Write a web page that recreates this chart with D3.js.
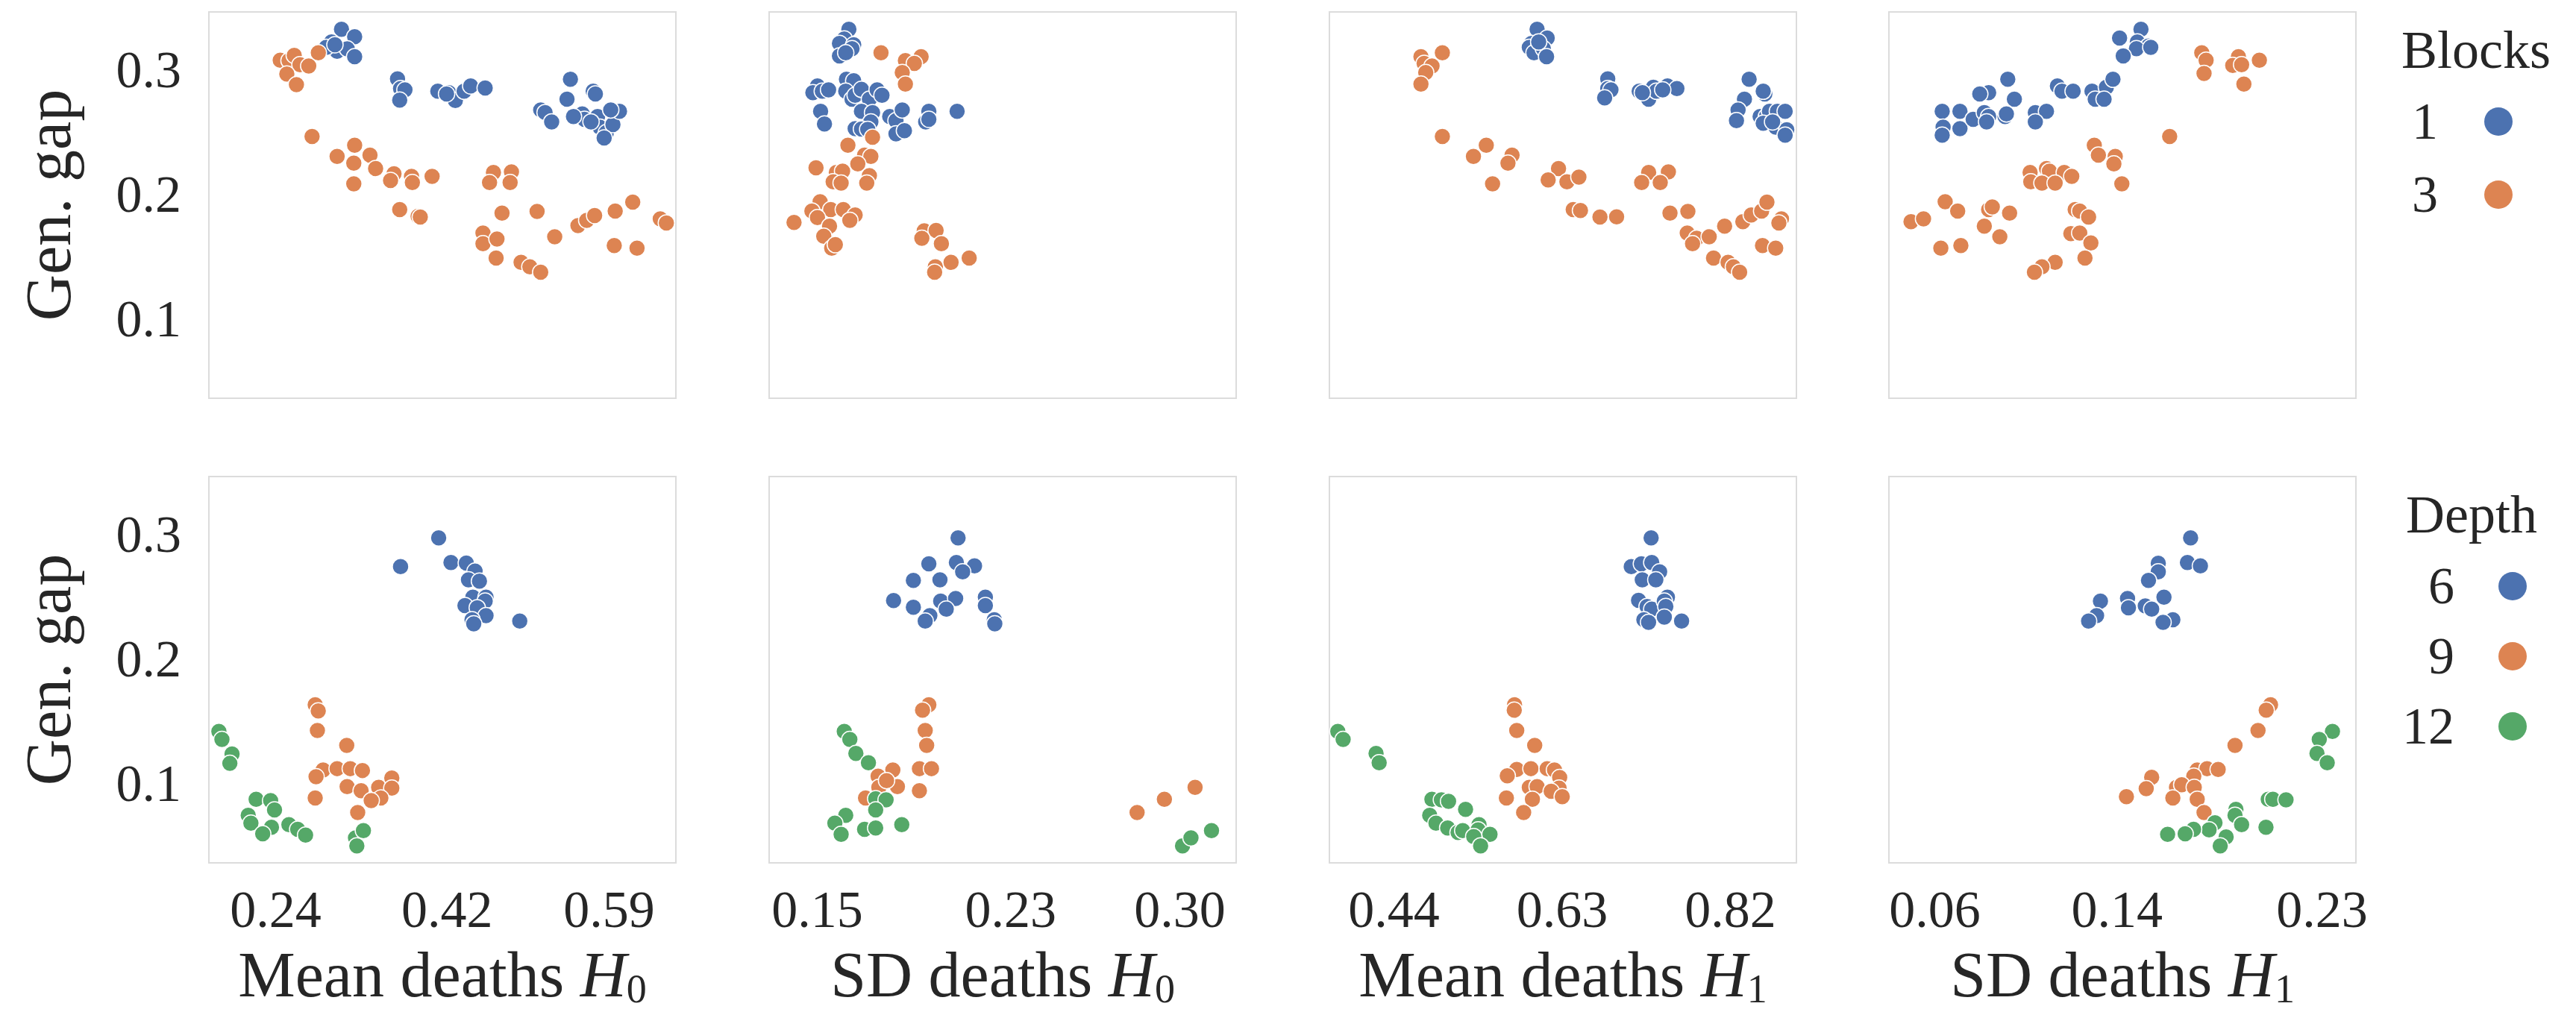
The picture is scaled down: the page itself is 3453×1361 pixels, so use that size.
<!DOCTYPE html>
<html>
<head>
<meta charset="utf-8">
<script src="https://cdn.jsdelivr.net/npm/d3@7"></script>
<style>
  body { margin: 0; background: #fff; }
  text { font-family: "Liberation Serif", "Times New Roman", Times, Tinos, "DejaVu Serif", "Noto Serif", FreeSerif, serif; fill: #262626; }
</style>
</head>
<body>
<div id="chart"></div>
<script>
// ---- data ----
var xLabels = ["Mean deaths", "SD deaths", "Mean deaths", "SD deaths"];
var xSubs = ["0", "0", "1", "1"];
var xTicks = [[0.24, 0.42, 0.59], [0.15, 0.23, 0.30], [0.44, 0.63, 0.82], [0.06, 0.14, 0.23]];
var xDomains = [[0.1703, 0.6605], [0.1302, 0.3235], [0.3675, 0.895], [0.040, 0.2451]];
var yTicks = [0.1, 0.2, 0.3];
var yDomain = [0.036, 0.3467];

var blocksNames = ["1", "3"];
var depthNames = ["6", "9", "12"];

// top row: Blocks = 1 / 3
var meanH0_b1 = [[0.3095,0.3327],[0.3233,0.3267],[0.2990,0.3225],[0.3049,0.315],[0.3155,0.317],[0.3233,0.3107],[0.2935,0.3182],[0.3026,0.3203],
  [0.3683,0.2929],[0.3715,0.285],[0.3761,0.284],[0.3706,0.2758],[0.4106,0.2829],[0.4221,0.2818],[0.4290,0.2754],[0.4382,0.2829],[0.4451,0.2872],[0.4603,0.2855],[0.4198,0.2807],
  [0.5498,0.2925],[0.5462,0.2765],[0.5737,0.2829],[0.5760,0.2807],[0.5186,0.2679],[0.5232,0.2658],[0.5301,0.2583],[0.5622,0.2647],[0.5645,0.2604],[0.5783,0.2626],[0.5806,0.254],[0.5875,0.2497],[0.5944,0.2561],[0.6013,0.2668],[0.5921,0.2679],[0.5714,0.2583],[0.5852,0.2454],[0.5530,0.2626]];
var meanH0_b3 = [[0.2452,0.3079],[0.2544,0.3075],[0.2599,0.3118],[0.2659,0.3043],[0.2751,0.3032],[0.2521,0.2968],[0.2622,0.2882],[0.2852,0.3139],
  [0.2786,0.2465],[0.3233,0.2395],[0.3049,0.2305],[0.3394,0.2315],[0.3224,0.2251],[0.3453,0.2208],[0.3646,0.2166],[0.3610,0.2112],[0.3830,0.2144],[0.3839,0.2095],[0.4046,0.2144],[0.3224,0.2084],[0.3706,0.1877],[0.3899,0.1823],[0.3922,0.1817],
  [0.4690,0.2176],[0.4879,0.2181],[0.4649,0.2095],[0.4865,0.2095],[0.4780,0.1849],[0.5148,0.1862],[0.4580,0.1688],[0.4580,0.1603],[0.4727,0.1641],[0.4718,0.1487],[0.4980,0.1453],[0.5072,0.1417],[0.5186,0.1374],[0.5333,0.1659],[0.5577,0.1748],[0.5669,0.1791],[0.5752,0.183],[0.5968,0.1866],[0.6152,0.1937],[0.6441,0.1802],[0.6505,0.177],[0.5958,0.1588],[0.6197,0.1567]];

var sdH0_b1 = [[0.1632,0.3327],[0.1613,0.325],[0.1593,0.3214],[0.1652,0.3203],[0.1645,0.3171],[0.1593,0.3113],[0.1619,0.3139],
  [0.1502,0.2872],[0.1483,0.2818],[0.1522,0.2829],[0.1548,0.284],[0.1622,0.2925],[0.1652,0.2914],[0.1619,0.2829],[0.1645,0.2765],[0.1658,0.2797],[0.1684,0.2844],[0.1717,0.2765],[0.1749,0.284],[0.1769,0.2797],
  [0.1515,0.2668],[0.1531,0.2566],[0.1684,0.2668],[0.1730,0.2658],[0.1723,0.2583],[0.1658,0.2529],[0.1684,0.2525],[0.1710,0.2523],[0.1801,0.2626],[0.1827,0.2593],[0.1853,0.2679],[0.1827,0.2487],[0.1862,0.2512],[0.1963,0.2668],[0.1950,0.2583],[0.1963,0.2604],[0.2080,0.2668]];
var sdH0_b3 = [[0.1765,0.3139],[0.1866,0.3075],[0.1931,0.3107],[0.1903,0.3053],[0.1853,0.2979],[0.1866,0.2887],[0.1730,0.2459],
  [0.1628,0.2395],[0.1697,0.2315],[0.1723,0.2305],[0.1669,0.2245],[0.1496,0.2213],[0.1580,0.2176],[0.1606,0.2187],[0.1567,0.2101],[0.1600,0.2091],[0.1717,0.2151],[0.1706,0.2091],
  [0.1513,0.1941],[0.1479,0.1866],[0.1557,0.1877],[0.1609,0.1877],[0.1658,0.1834],[0.1636,0.1791],[0.1405,0.1774],[0.1502,0.1813],[0.1552,0.1744],[0.1528,0.1663],[0.1561,0.1567],[0.1576,0.1595],
  [0.1944,0.1706],[0.1993,0.171],[0.2015,0.1603],[0.1934,0.1646],[0.1990,0.1417],[0.1987,0.1374],[0.2055,0.1453],[0.2130,0.1487]];

var meanH1_b1 = [[0.6021,0.3327],[0.6135,0.3257],[0.5957,0.3214],[0.5933,0.3182],[0.5986,0.3139],[0.6092,0.3171],[0.6128,0.3107],[0.6039,0.3225],
  [0.6819,0.2929],[0.6819,0.285],[0.6855,0.284],[0.6784,0.2775],[0.7174,0.2829],[0.7281,0.2765],[0.7334,0.2861],[0.7369,0.2829],[0.7494,0.2872],[0.7600,0.2850],[0.7210,0.2818],[0.7440,0.2840],
  [0.8416,0.2925],[0.8363,0.2765],[0.8593,0.2807],[0.8575,0.2829],[0.8291,0.2679],[0.8273,0.2593],[0.8540,0.2626],[0.8611,0.2626],[0.8646,0.2668],[0.8735,0.2668],[0.8823,0.2668],[0.8717,0.254],[0.8841,0.2519],[0.8823,0.2476],[0.8575,0.2572],[0.8681,0.2583]];
var meanH1_b3 = [[0.4709,0.3107],[0.4745,0.3053],[0.4834,0.3032],[0.4951,0.3139],[0.4763,0.2979],[0.4709,0.2887],
  [0.4951,0.2465],[0.5447,0.2395],[0.5302,0.2305],[0.5738,0.2315],[0.5692,0.2251],[0.5518,0.2084],[0.6263,0.2208],[0.6146,0.2116],[0.6358,0.2101],[0.6493,0.2138],
  [0.7281,0.2176],[0.7504,0.2181],[0.7202,0.2095],[0.7412,0.2095],[0.6429,0.1877],[0.6511,0.187],[0.6731,0.1817],[0.6919,0.1819],[0.7522,0.1849],[0.7724,0.1862],
  [0.7717,0.1688],[0.7823,0.1646],[0.7965,0.1659],[0.7777,0.1603],[0.8139,0.1744],[0.8345,0.178],[0.8440,0.1834],[0.8557,0.1866],[0.8617,0.1937],[0.8781,0.1802],[0.8752,0.177],[0.8567,0.1588],[0.8716,0.1567],
  [0.8014,0.1487],[0.8178,0.1453],[0.8238,0.1417],[0.8309,0.1374]];

var sdH1_b1 = [[0.1507,0.3327],[0.1413,0.3257],[0.1491,0.3225],[0.1540,0.3193],[0.1487,0.3171],[0.1429,0.3113],[0.1550,0.3182],
  [0.0922,0.2925],[0.0838,0.2818],[0.0799,0.2807],[0.0951,0.2765],[0.1140,0.2872],[0.1160,0.2829],[0.1209,0.2829],[0.1292,0.2829],[0.1355,0.2861],[0.1384,0.2925],[0.1306,0.2765],[0.1345,0.2765],
  [0.0634,0.2668],[0.0712,0.2668],[0.0638,0.254],[0.0712,0.2529],[0.0770,0.2604],[0.0819,0.2658],[0.0838,0.2626],[0.0829,0.2583],[0.0910,0.2626],[0.0916,0.2647],[0.1043,0.2658],[0.1092,0.2668],[0.1043,0.2583],[0.0634,0.2476]];
var sdH1_b3 = [[0.1774,0.3139],[0.1793,0.3079],[0.1935,0.3107],[0.1910,0.3036],[0.1949,0.3043],[0.2027,0.3079],[0.1784,0.2972],[0.1959,0.2887],
  [0.1633,0.2465],[0.1302,0.2395],[0.1320,0.2315],[0.1394,0.2305],[0.1388,0.2245],[0.1423,0.2084],
  [0.1020,0.2176],[0.1092,0.2208],[0.1105,0.2187],[0.1170,0.2176],[0.1203,0.2144],[0.1023,0.2101],[0.1072,0.2091],[0.1130,0.2091],
  [0.0647,0.1941],[0.0702,0.1866],[0.0838,0.1877],[0.0854,0.1898],[0.0930,0.1849],[0.0497,0.178],[0.0552,0.1802],[0.0819,0.1744],[0.0887,0.1659],[0.0628,0.1567],[0.0716,0.1588],
  [0.1218,0.1877],[0.1238,0.1866],[0.1277,0.1817],[0.1199,0.1684],[0.1238,0.1688],[0.1287,0.1609],[0.1261,0.1487],[0.1130,0.1453],[0.1072,0.1417],[0.1039,0.1374]];

// bottom row: Depth = 6 / 9 / 12
var meanH0_d6 = [[0.4115,0.2974],[0.3715,0.2743],[0.4244,0.2775],[0.4405,0.2771],[0.4497,0.2707],[0.4428,0.2636],[0.4543,0.2626],[0.4474,0.2497],[0.4612,0.2497],[0.4603,0.2465],[0.4391,0.2429],[0.4520,0.2412],[0.4612,0.2348],[0.4465,0.2316],[0.4483,0.2283],[0.4966,0.2305]];
var meanH0_d9 = [[0.2819,0.1631],[0.2851,0.1582],[0.2842,0.1424],[0.3150,0.1304],[0.2902,0.1107],[0.3049,0.1118],[0.3187,0.1118],[0.3315,0.1103],[0.2828,0.1053],[0.3154,0.0974],[0.3301,0.094],[0.3485,0.0968],[0.3623,0.1043],[0.3623,0.0961],[0.3508,0.0882],[0.3407,0.0861],[0.2819,0.0882],[0.3265,0.0765]];
var meanH0_d12 = [[0.1808,0.1417],[0.1840,0.1353],[0.1946,0.1235],[0.1923,0.116],[0.2199,0.0872],[0.2351,0.0861],[0.2392,0.0786],[0.2116,0.0743],[0.2144,0.0679],[0.2360,0.0647],[0.2268,0.0594],[0.2543,0.0668],[0.2635,0.063],[0.2718,0.0583],[0.3242,0.0561],[0.3325,0.0619],[0.3256,0.0497]];

var sdH0_d6 = [[0.2084,0.2974],[0.1963,0.2765],[0.2077,0.2775],[0.2152,0.2748],[0.2103,0.2701],[0.1899,0.2632],[0.2009,0.2636],[0.1817,0.247],[0.1899,0.2416],[0.2012,0.2465],[0.2074,0.2487],[0.2035,0.2401],[0.1967,0.2348],[0.1948,0.2305],[0.2197,0.2497],[0.2197,0.2429],[0.2234,0.2316],[0.2236,0.2283]];
var sdH0_d9 = [[0.1963,0.1631],[0.1937,0.1588],[0.1948,0.1424],[0.1954,0.1304],[0.1814,0.1107],[0.1753,0.1058],[0.1924,0.1118],[0.1974,0.1118],[0.1833,0.0974],[0.1756,0.0968],[0.1924,0.094],[0.1701,0.0882],[0.1788,0.1021],[0.2825,0.0765],[0.2938,0.0872],[0.3065,0.0968]];
var sdH0_d12 = [[0.1613,0.1417],[0.1636,0.1353],[0.1661,0.124],[0.1713,0.1165],[0.1743,0.0876],[0.1786,0.0867],[0.1743,0.0786],[0.1619,0.0743],[0.1574,0.0679],[0.1600,0.0589],[0.1697,0.063],[0.1743,0.0641],[0.1851,0.0668],[0.3013,0.0497],[0.3048,0.0561],[0.3133,0.0619]];

var meanH1_d6 = [[0.7309,0.2974],[0.7085,0.2743],[0.7199,0.2765],[0.7316,0.2775],[0.7405,0.2701],[0.7209,0.2636],[0.7362,0.2636],[0.7167,0.2472],[0.7263,0.2422],[0.7316,0.2401],[0.7493,0.2497],[0.7458,0.2465],[0.7475,0.2422],[0.7458,0.2337],[0.7227,0.2316],[0.7280,0.2294],[0.7653,0.2305]];
var meanH1_d9 = [[0.5766,0.1631],[0.5763,0.1588],[0.5791,0.1424],[0.5994,0.1304],[0.5791,0.1111],[0.5951,0.1118],[0.6135,0.1118],[0.6217,0.1107],[0.5684,0.106],[0.6276,0.1047],[0.5933,0.0968],[0.6021,0.0974],[0.6269,0.0961],[0.6180,0.0936],[0.5674,0.0882],[0.5968,0.0872],[0.6305,0.0893],[0.5869,0.0765]];
var meanH1_d12 = [[0.3770,0.1417],[0.3830,0.1353],[0.4202,0.124],[0.4237,0.1165],[0.4833,0.0872],[0.4940,0.0867],[0.5021,0.0855],[0.5213,0.079],[0.4808,0.0743],[0.4879,0.0679],[0.5011,0.0641],[0.5128,0.0604],[0.5181,0.0619],[0.5365,0.0668],[0.5355,0.0626],[0.5489,0.0589],[0.5305,0.0572],[0.5383,0.0497]];

var sdH1_d6 = [[0.1725,0.2974],[0.1711,0.2775],[0.1768,0.2748],[0.1583,0.2769],[0.1583,0.2701],[0.1540,0.2632],[0.1329,0.2465],[0.1312,0.2348],[0.1277,0.2305],[0.1448,0.2487],[0.1452,0.2412],[0.1526,0.2427],[0.1554,0.2401],[0.1608,0.2497],[0.1647,0.2316],[0.1604,0.2294]];
var sdH1_d9 = [[0.2076,0.1631],[0.2057,0.1588],[0.2021,0.1424],[0.1920,0.1304],[0.1754,0.1107],[0.1797,0.1118],[0.1846,0.1111],[0.1739,0.1058],[0.1554,0.1049],[0.1530,0.0957],[0.1443,0.0893],[0.1663,0.0968],[0.1686,0.0989],[0.1741,0.0968],[0.1647,0.0882],[0.1754,0.0872],[0.1784,0.0765]];
var sdH1_d12 = [[0.2348,0.1417],[0.2290,0.1353],[0.2280,0.124],[0.2325,0.1165],[0.2066,0.0872],[0.2086,0.0872],[0.2144,0.0867],[0.1924,0.079],[0.1920,0.0743],[0.1949,0.0668],[0.2056,0.0647],[0.1832,0.0683],[0.1806,0.0626],[0.1738,0.063],[0.1701,0.0594],[0.1624,0.0589],[0.1881,0.0568],[0.1855,0.0497]];

var topRow = [[meanH0_b1, meanH0_b3], [sdH0_b1, sdH0_b3], [meanH1_b1, meanH1_b3], [sdH1_b1, sdH1_b3]];
var bottomRow = [[meanH0_d6, meanH0_d9, meanH0_d12], [sdH0_d6, sdH0_d9, sdH0_d12], [meanH1_d6, meanH1_d9, meanH1_d12], [sdH1_d6, sdH1_d9, sdH1_d12]];

var palette = ["#4c72b0", "#dd8452", "#55a868"];

// ---- layout ----
var svgWidth = 3453, svgHeight = 1361;
var panelW = 626, panelH = 518;
var colX = [280, 1031, 1782, 2532];
var rowY = [16, 639];

var svg = d3.select('#chart')
    .append('svg')
    .attr('width', svgWidth)
    .attr('height', svgHeight);

var yScale = d3.scaleLinear().domain(yDomain).range([panelH, 0]);

[topRow, bottomRow].forEach(function(row, r) {
    row.forEach(function(series, c) {
        var g = svg.append('g')
            .attr('transform', `translate(${colX[c]}, ${rowY[r]})`);

        var xScale = d3.scaleLinear().domain(xDomains[c]).range([0, panelW]);

        g.append('rect')
            .attr('width', panelW)
            .attr('height', panelH)
            .attr('fill', '#fff')
            .attr('stroke', '#dcdcdc')
            .attr('stroke-width', 2);

        // points
        series.forEach(function(pts, s) {
            g.append('g').selectAll('circle')
                .data(pts)
                .enter()
                .append('circle')
                .attr('cx', d => xScale(d[0]))
                .attr('cy', d => yScale(d[1]))
                .attr('r', 11)
                .attr('fill', palette[s])
                .attr('stroke', '#fff')
                .attr('stroke-width', 1.5);
        });

        if (c === 0) {
            var leftAxis = d3.axisLeft(yScale).tickValues(yTicks).tickFormat(d3.format('.1f')).tickSize(0).tickPadding(37);
            var ya = g.append('g').call(leftAxis);
            ya.select('.domain').remove();
            ya.selectAll('text')
                .attr('font-size', 70)
                .attr('dy', '0.33em');

            g.append('text')
                .attr('transform', 'rotate(-90)')
                .attr('x', -panelH / 2)
                .attr('y', 94 - colX[0])
                .attr('text-anchor', 'middle')
                .attr('font-size', 86)
                .text('Gen. gap');
        }

        if (r === 1) {
            var bottomAxis = d3.axisBottom(xScale).tickValues(xTicks[c]).tickFormat(d3.format('.2f')).tickSize(0).tickPadding(0);
            var xa = g.append('g').attr('transform', `translate(0, ${panelH})`).call(bottomAxis);
            xa.select('.domain').remove();
            xa.selectAll('text')
                .attr('font-size', 70)
                .attr('y', 1243 - rowY[1] - panelH)
                .attr('dy', null);

            var lab = g.append('text')
                .attr('x', panelW / 2)
                .attr('y', 1336 - rowY[1])
                .attr('text-anchor', 'middle')
                .attr('font-size', 86);
            lab.append('tspan').text(xLabels[c] + ' ');
            lab.append('tspan').attr('font-style', 'italic').text('H');
            lab.append('tspan').attr('font-size', 54).attr('dy', 8).text(xSubs[c]);
        }
    });
});

// ---- legends ----
function legend(title, names, top, titleX, numX, dotX, step) {
    var lg = svg.append('g');
    lg.append('text')
        .attr('x', titleX)
        .attr('y', top)
        .attr('font-size', 72)
        .text(title);
    names.forEach(function(n, i) {
        var cy = top + 72 + i * step;
        lg.append('text')
            .attr('x', numX)
            .attr('y', cy + 23)
            .attr('text-anchor', 'end')
            .attr('font-size', 70)
            .text(n);
        lg.append('circle')
            .attr('cx', dotX)
            .attr('cy', cy)
            .attr('r', 19)
            .attr('fill', palette[i]);
    });
}
legend('Blocks', blocksNames, 91, 3219, 3268, 3349, 98);
legend('Depth', depthNames, 714, 3225, 3290, 3368, 94);
</script>
</body>
</html>
